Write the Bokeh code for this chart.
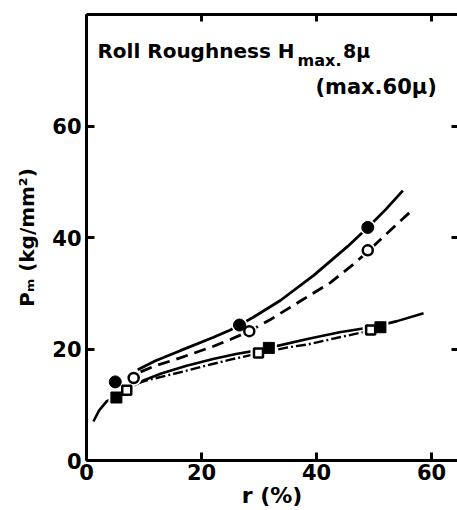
from bokeh.plotting import figure
from bokeh.models import FixedTicker, LinearAxis, Range1d
from bokeh.core.properties import value
from bokeh.embed import file_html
from bokeh.resources import INLINE

# marker data (r %, Pm kg/mm2)
r_fc = [5.0, 26.6, 48.9]
p_fc = [14.1, 24.3, 41.8]
r_oc = [8.2, 28.3, 48.9]
p_oc = [14.8, 23.2, 37.7]
r_fs = [5.2, 31.7, 51.1]
p_fs = [11.3, 20.2, 23.9]
r_os = [7.0, 29.9, 49.4]
p_os = [12.6, 19.3, 23.4]

# fitted curves
r_c1 = [8.9, 12, 16.3, 22.1, 25, 26.6, 29, 33.7, 39.5, 45.4, 48.9, 52, 55]
p_c1 = [16.3, 17.9, 19.7, 22.1, 23.4, 24.3, 25.7, 28.7, 33.2, 38.4, 41.8, 45.0, 48.4]
r_c2 = [9.4, 12, 16.3, 22.1, 25, 28.3, 32, 37.2, 42.4, 46.4, 48.9, 52, 56.3]
p_c2 = [15.9, 17.0, 18.4, 20.5, 21.7, 23.2, 25.3, 28.6, 31.9, 35.2, 37.5, 40.5, 44.6]
r_c3 = [1.2, 2.2, 3.5, 5.2, 7.3, 10, 13, 17.4, 22, 26, 29.9, 31.7, 38.4, 44, 50, 54, 58.6]
p_c3 = [7.0, 9.0, 10.6, 11.6, 12.9, 14.4, 15.6, 17.0, 18.2, 19.1, 19.8, 20.2, 21.8, 23.0, 24.0, 25.0, 26.4]
r_c4 = [9, 11, 15, 20, 25, 29.9, 35, 38.4, 44, 49.4]
p_c4 = [13.9, 14.5, 15.5, 16.8, 18.1, 19.2, 20.3, 20.8, 22.1, 23.3]

ticks = [0, 20, 40, 60]

FONT = "DejaVu Sans"

p = figure(width=457, height=510, output_backend="svg", toolbar_location=None,
           x_range=Range1d(0, 64.5), y_range=Range1d(0, 80),
           min_border_left=86, min_border_right=0, min_border_top=14, min_border_bottom=49)
p.grid.visible = False
p.outline_line_color = None
p.background_fill_color = "white"
p.border_fill_color = "white"

for ax in p.xaxis + p.yaxis:
    ax.ticker = FixedTicker(ticks=ticks)
    ax.major_tick_in = 8
    ax.major_tick_out = 0
    ax.minor_tick_line_color = None
    ax.axis_line_width = 3
    ax.major_tick_line_width = 3
    ax.major_label_text_font = FONT
    ax.major_label_text_font_style = "bold"
    ax.major_label_text_font_size = "21px"
    ax.major_label_text_color = "black"
    ax.axis_label_text_font = FONT
    ax.axis_label_text_font_style = "bold"
    ax.axis_label_text_color = "black"

p.xaxis.axis_label = "r (%)"
p.xaxis.axis_label_text_font_size = "22px"
p.xaxis.major_label_standoff = 3
p.xaxis.axis_label_standoff = 0
p.yaxis.axis_label = "Pₘ (kg/mm²)"
p.yaxis.axis_label_text_font_size = "20px"
p.yaxis.major_label_standoff = 5
p.yaxis.axis_label_standoff = 10

top = LinearAxis(ticker=FixedTicker(ticks=ticks), major_label_text_color=None,
                 major_tick_in=7, major_tick_out=0, minor_tick_line_color=None,
                 axis_line_width=3, major_tick_line_width=3)
p.add_layout(top, "above")
right = LinearAxis(ticker=FixedTicker(ticks=ticks), major_label_text_color=None,
                   major_tick_in=6, major_tick_out=0, minor_tick_line_color=None,
                   axis_line_color=None, major_tick_line_width=3)
p.add_layout(right, "right")

# curves
p.line(r_c1, p_c1, line_color="black", line_width=2.8)
p.line(r_c2, p_c2, line_color="black", line_width=2.8, line_dash="12 7")
p.line(r_c3, p_c3, line_color="black", line_width=2.6)
p.line(r_c4, p_c4, line_color="black", line_width=2.4, line_dash="10 3 2 3")

# white halos around markers
for rx, py, m in [(r_fc, p_fc, "circle"), (r_oc, p_oc, "circle"),
                  (r_fs, p_fs, "square"), (r_os, p_os, "square")]:
    p.scatter(rx, py, marker=m, size=16, fill_color="white", line_color=None)

p.scatter(r_fc, p_fc, marker="circle", size=12, fill_color="black", line_color="black")
p.scatter(r_oc, p_oc, marker="circle", size=10, fill_color="white", line_color="black", line_width=2.5)
p.scatter(r_fs, p_fs, marker="square", size=11, fill_color="black", line_color="black")
p.scatter(r_os, p_os, marker="square", size=9, fill_color="white", line_color="black", line_width=2.5)

# title annotation
p.text(x=[1.9], y=[73.4], text=["Roll Roughness H"], text_font=value(FONT),
       text_font_style="bold", text_font_size="20px", text_baseline="alphabetic", text_color="black")
p.text(x=[36.7], y=[71.8], text=["max."], text_font=value(FONT),
       text_font_style="bold", text_font_size="16px", text_baseline="alphabetic", text_color="black")
p.text(x=[44.6], y=[73.4], text=["8μ"], text_font=value(FONT),
       text_font_style="bold", text_font_size="19px", text_baseline="alphabetic", text_color="black")
p.text(x=[39.8], y=[67.0], text=["(max.60μ)"], text_font=value(FONT),
       text_font_style="bold", text_font_size="21px", text_baseline="alphabetic", text_color="black")

open("out.html", "w").write(file_html(p, INLINE))
